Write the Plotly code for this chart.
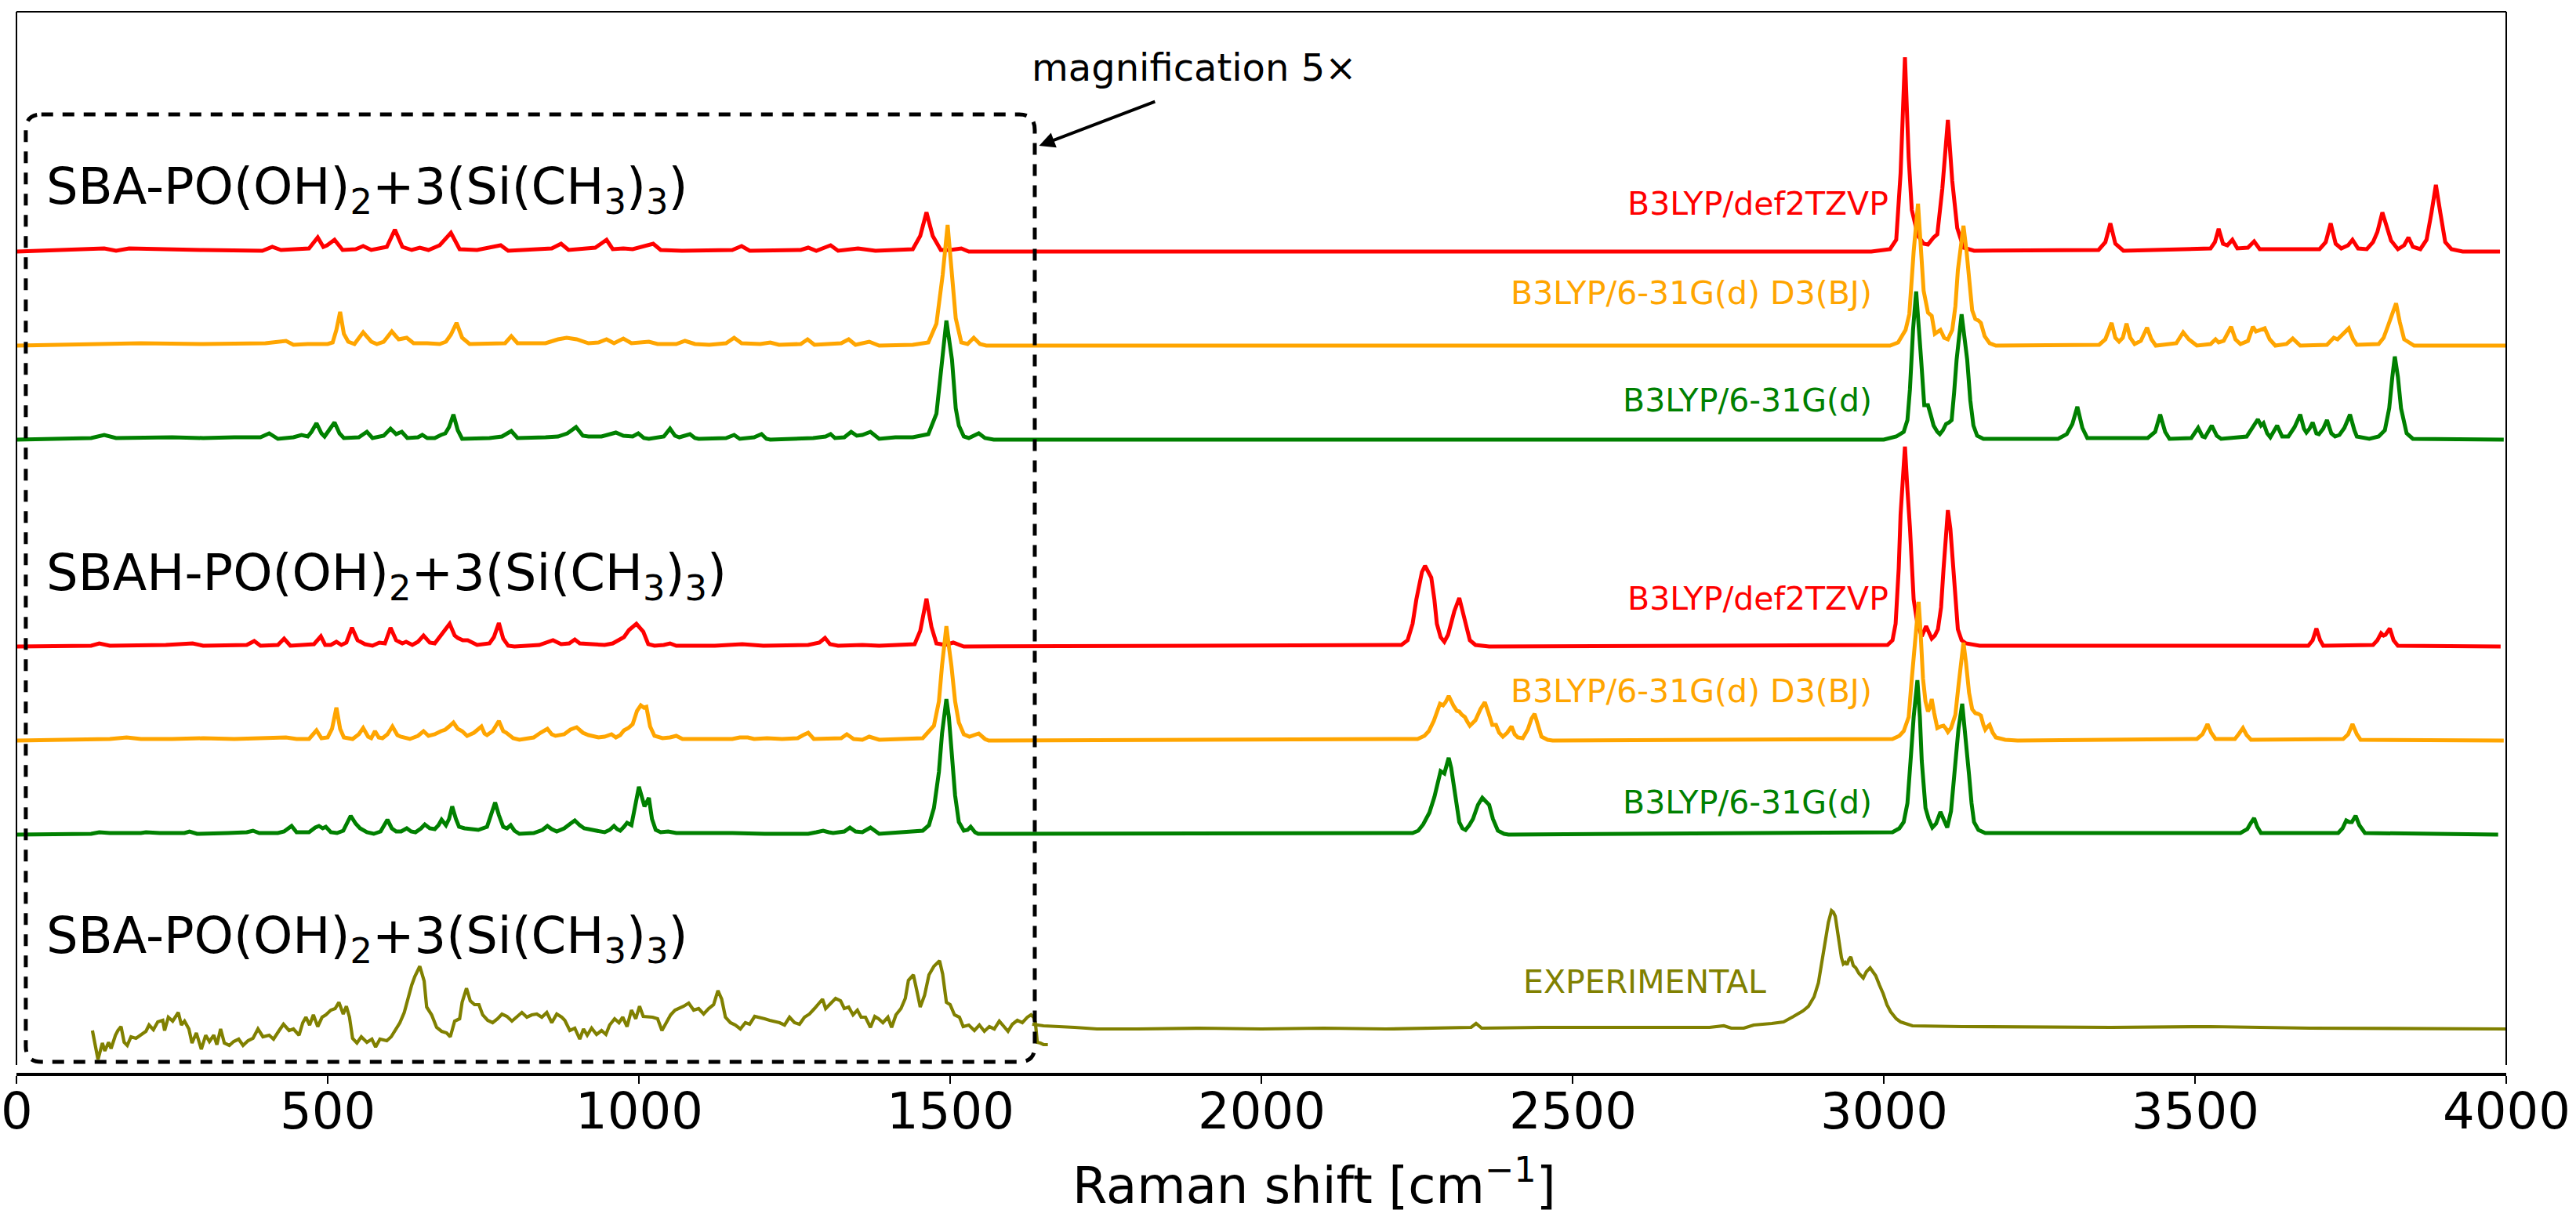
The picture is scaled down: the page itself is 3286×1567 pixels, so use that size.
import plotly.graph_objects as go

# Raman spectra.
# x = Raman shift [cm-1], y = intensity above each trace's own baseline (a.u.)

TOP_RED = [(0,0),(141,4),(160,1),(181,4),(300,2),(395,1),(411,6),(425,2),(470,4),(484,18),(493,6),(499,8),(511,15),(524,2),(545,3),(557,7),(570,2),(595,6),(608,28),(620,6),(635,2),(648,5),(662,2),(680,8),(698,24),(712,3),(740,2),(778,8),(790,1),(860,4),(875,10),(887,2),(930,5),(948,15),(958,3),(975,4),(990,3),(1005,6),(1023,10),(1035,2),(1069,1),(1150,2),(1165,7),(1178,1),(1260,2),(1272,5),(1285,1),(1308,8),(1320,1),(1352,4),(1380,1),(1440,3),(1452,20),(1462,50),(1472,20),(1485,2),(1500,2),(1518,4),(1530,0),(2980,0),(3010,3),(3020,15),(3027,100),(3034,248),(3040,120),(3045,53),(3055,20),(3064,10),(3071,9),(3080,18),(3086,22),(3094,80),(3103,168),(3110,90),(3118,30),(3128,5),(3145,1),(3345,2),(3356,12),(3364,36),(3372,10),(3385,1),(3525,4),(3532,12),(3538,29),(3545,10),(3552,8),(3560,15),(3568,4),(3585,5),(3595,13),(3604,3),(3700,3),(3710,12),(3718,36),(3726,10),(3735,4),(3746,8),(3753,15),(3762,4),(3776,3),(3786,12),(3793,25),(3801,50),(3808,30),(3815,14),(3826,3),(3836,8),(3843,18),(3850,6),(3862,3),(3872,15),(3880,50),(3887,85),(3894,50),(3902,12),(3912,3),(3930,0),(3990,0)]

TOP_ORANGE = [(0,0),(100,2),(200,3),(300,2),(400,3),(433,6),(445,1),(468,2),(500,2),(508,4),(514,20),(520,43),(526,15),(533,5),(543,2),(557,17),(570,5),(579,2),(590,5),(603,18),(614,8),(627,10),(638,3),(660,3),(680,2),(690,5),(698,14),(707,29),(716,10),(728,2),(785,3),(795,12),(805,3),(850,3),(870,8),(884,10),(900,8),(919,3),(935,4),(948,8),(960,3),(975,9),(988,3),(1016,5),(1030,2),(1060,2),(1074,6),(1090,2),(1113,1),(1140,3),(1153,10),(1165,3),(1175,3),(1195,2),(1211,4),(1225,1),(1260,2),(1271,8),(1282,1),(1300,2),(1325,3),(1337,8),(1348,1),(1370,5),(1386,0),(1440,1),(1465,4),(1478,28),(1488,90),(1496,154),(1503,90),(1509,35),(1518,4),(1528,2),(1538,10),(1548,2),(1558,0),(3010,0),(3023,4),(3035,20),(3041,40),(3048,120),(3055,181),(3060,120),(3064,70),(3071,42),(3077,38),(3082,15),(3088,18),(3091,20),(3097,10),(3103,8),(3110,20),(3115,50),(3119,96),(3128,153),(3133,120),(3137,80),(3142,45),(3147,34),(3152,32),(3156,29),(3162,12),(3170,3),(3180,0),(3346,1),(3356,8),(3366,29),(3372,10),(3378,5),(3384,10),(3390,28),(3396,10),(3403,2),(3413,6),(3423,23),(3430,8),(3437,0),(3470,3),(3481,17),(3490,8),(3503,0),(3525,2),(3533,8),(3538,4),(3546,6),(3558,24),(3565,8),(3573,2),(3585,6),(3593,24),(3598,18),(3603,19),(3608,20),(3612,22),(3620,8),(3629,0),(3647,2),(3657,9),(3669,0),(3712,1),(3718,6),(3723,10),(3729,8),(3734,12),(3741,16),(3747,22),(3754,8),(3760,1),(3795,2),(3803,10),(3810,25),(3816,40),(3823,54),(3829,30),(3836,8),(3852,0),(3999,0)]

TOP_GREEN = [(0,0),(120,2),(141,6),(160,2),(250,3),(300,2),(350,3),(392,3),(406,8),(420,1),(445,3),(458,6),(468,4),(474,10),(482,21),(490,8),(495,4),(503,12),(511,22),(519,8),(526,2),(550,3),(563,10),(572,2),(590,5),(601,14),(610,7),(619,10),(628,2),(645,3),(652,6),(660,2),(672,2),(682,6),(689,8),(695,16),(702,32),(709,12),(716,1),(760,2),(780,4),(795,11),(805,2),(850,3),(870,4),(885,8),(899,16),(910,5),(919,4),(940,4),(963,9),(975,5),(990,4),(999,8),(1008,2),(1016,1),(1040,4),(1050,14),(1058,5),(1065,3),(1082,7),(1090,2),(1096,1),(1140,2),(1153,6),(1162,1),(1185,3),(1197,7),(1205,1),(1211,0),(1280,2),(1300,4),(1308,7),(1315,2),(1330,3),(1341,10),(1350,5),(1359,6),(1372,10),(1386,1),(1412,3),(1440,3),(1465,7),(1478,33),(1487,102),(1494,152),(1503,102),(1509,40),(1514,18),(1522,4),(1530,2),(1546,8),(1556,2),(1570,0),(3000,0),(3020,4),(3032,10),(3038,25),(3042,64),(3047,140),(3052,189),(3056,150),(3060,102),(3065,44),(3071,44),(3076,30),(3080,18),(3086,10),(3090,7),(3095,12),(3100,20),(3105,22),(3109,25),(3113,60),(3117,102),(3125,160),(3130,130),(3134,102),(3139,50),(3144,18),(3150,5),(3160,1),(3280,1),(3294,7),(3303,20),(3311,42),(3319,15),(3327,2),(3424,2),(3436,10),(3444,32),(3452,10),(3459,1),(3494,2),(3505,15),(3512,4),(3516,3),(3527,18),(3535,5),(3542,1),(3583,4),(3592,14),(3601,26),(3606,18),(3610,21),(3616,8),(3621,3),(3632,18),(3640,4),(3650,4),(3660,16),(3669,32),(3675,14),(3679,9),(3684,14),(3689,22),(3695,8),(3699,7),(3706,14),(3712,25),(3719,8),(3725,4),(3732,6),(3740,15),(3749,32),(3756,12),(3760,4),(3780,1),(3795,4),(3805,12),(3812,40),(3817,80),(3821,106),(3826,80),(3831,40),(3840,8),(3850,1),(3996,0)]

MID_RED = [(0,0),(120,1),(133,4),(150,1),(240,2),(283,4),(300,1),(370,2),(382,7),(392,1),(420,2),(430,10),(440,1),(478,3),(489,13),(496,2),(505,2),(514,6),(522,2),(530,5),(539,24),(548,8),(560,3),(572,1),(583,5),(592,4),(601,24),(610,8),(620,4),(626,6),(636,2),(645,6),(654,14),(664,5),(672,4),(685,18),(696,29),(704,14),(709,11),(717,8),(725,8),(740,2),(760,4),(767,12),(775,30),(782,10),(790,1),(800,0),(840,2),(862,8),(875,3),(888,4),(897,9),(905,4),(919,3),(945,2),(958,4),(968,8),(976,12),(984,21),(996,29),(1007,19),(1015,3),(1025,1),(1040,2),(1050,4),(1060,1),(1100,1),(1122,1),(1166,3),(1200,1),(1272,2),(1290,5),(1299,11),(1307,3),(1320,1),(1359,2),(1386,1),(1443,3),(1452,20),(1462,61),(1470,25),(1478,4),(1492,2),(1505,5),(1522,0),(2225,2),(2235,8),(2243,29),(2249,60),(2253,75),(2258,95),(2263,103),(2268,95),(2273,88),(2278,60),(2282,29),(2288,12),(2294,6),(2300,15),(2304,26),(2310,45),(2318,62),(2323,45),(2328,29),(2335,8),(2344,2),(2366,0),(3006,2),(3014,8),(3019,29),(3024,100),(3027,169),(3034,255),(3038,200),(3042,152),(3048,60),(3054,29),(3061,13),(3068,26),(3077,10),(3082,14),(3087,22),(3092,50),(3096,99),(3103,174),(3107,150),(3110,117),(3115,60),(3119,22),(3125,8),(3132,4),(3154,1),(3682,1),(3689,8),(3695,23),(3701,8),(3706,1),(3786,2),(3793,8),(3799,17),(3803,14),(3806,15),(3813,23),(3819,8),(3826,1),(3991,0)]

MID_ORANGE = [(0,0),(100,1),(150,2),(177,4),(200,2),(250,2),(300,3),(350,2),(400,3),(433,4),(450,2),(470,2),(482,13),(490,3),(500,4),(507,15),(514,42),(520,15),(526,4),(540,2),(550,8),(557,16),(565,5),(570,3),(576,12),(582,4),(588,3),(596,8),(604,18),(612,7),(617,5),(624,4),(632,2),(645,6),(654,12),(662,6),(672,8),(682,12),(689,14),(695,18),(702,23),(709,15),(716,12),(724,6),(735,10),(747,18),(752,9),(756,7),(765,12),(775,25),(782,12),(787,10),(798,3),(808,1),(820,3),(831,4),(842,10),(853,15),(860,8),(866,6),(880,8),(890,14),(900,17),(910,10),(919,7),(935,4),(945,5),(956,8),(963,4),(970,7),(976,13),(983,16),(990,21),(997,38),(1003,45),(1008,42),(1012,43),(1018,18),(1025,6),(1038,3),(1050,4),(1060,6),(1070,2),(1100,2),(1122,1),(1150,2),(1162,4),(1175,4),(1185,2),(1206,3),(1230,2),(1255,3),(1264,7),(1272,10),(1281,2),(1300,2),(1325,3),(1334,8),(1345,2),(1359,1),(1370,5),(1386,1),(1456,3),(1474,19),(1482,50),(1487,96),(1494,146),(1498,120),(1502,96),(1508,50),(1514,23),(1522,8),(1531,5),(1546,9),(1556,2),(1562,0),(2251,2),(2262,6),(2269,12),(2277,25),(2283,40),(2287,47),(2292,45),(2296,49),(2301,57),(2305,50),(2309,44),(2314,38),(2318,37),(2322,33),(2327,30),(2331,24),(2335,19),(2339,22),(2344,26),(2352,40),(2359,49),(2365,35),(2371,20),(2377,20),(2382,10),(2388,5),(2395,10),(2402,18),(2407,8),(2412,4),(2420,3),(2428,14),(2434,28),(2439,34),(2444,20),(2450,5),(2460,1),(2468,0),(3014,2),(3025,6),(3032,12),(3040,30),(3045,79),(3050,130),(3056,177),(3059,140),(3063,79),(3067,50),(3071,37),(3074,42),(3077,53),(3081,35),(3086,16),(3091,18),(3096,19),(3100,15),(3103,11),(3108,16),(3115,33),(3120,70),(3124,100),(3128,125),(3132,100),(3137,61),(3142,40),(3147,35),(3152,34),(3156,32),(3160,20),(3163,14),(3167,18),(3170,20),(3175,10),(3180,4),(3195,1),(3215,0),(3503,2),(3512,8),(3520,21),(3526,10),(3533,2),(3564,2),(3570,8),(3577,16),(3583,7),(3590,1),(3738,2),(3746,8),(3753,21),(3760,8),(3766,1),(3996,0)]

MID_GREEN = [(0,0),(120,1),(133,3),(150,2),(200,2),(208,3),(230,2),(270,2),(278,4),(290,1),(340,2),(370,3),(380,5),(390,2),(420,2),(430,4),(442,11),(450,3),(470,3),(480,9),(486,11),(492,8),(497,10),(505,3),(515,2),(525,5),(537,24),(545,14),(552,8),(563,3),(574,1),(585,4),(596,19),(603,8),(610,4),(618,4),(627,8),(634,4),(641,3),(650,8),(656,13),(664,8),(672,7),(678,12),(683,19),(690,12),(695,20),(700,36),(706,20),(711,10),(720,8),(742,6),(756,10),(763,25),(769,41),(775,25),(782,10),(788,8),(794,12),(800,5),(808,1),(831,2),(845,6),(853,11),(860,7),(868,4),(880,8),(890,14),(897,18),(905,12),(912,8),(919,7),(935,4),(945,3),(953,6),(960,11),(965,7),(970,5),(976,10),(981,15),(988,12),(994,40),(1000,61),(1004,50),(1009,36),(1013,42),(1016,47),(1021,20),(1027,6),(1035,3),(1047,4),(1060,2),(1069,2),(1100,2),(1130,2),(1140,3),(1150,2),(1202,1),(1272,1),(1285,3),(1296,5),(1305,3),(1312,2),(1330,4),(1339,9),(1348,4),(1359,3),(1372,9),(1386,1),(1456,5),(1466,12),(1474,34),(1482,80),(1487,129),(1494,173),(1498,150),(1502,111),(1508,50),(1514,16),(1522,5),(1528,6),(1533,10),(1540,3),(1545,1),(2243,2),(2252,5),(2260,13),(2270,28),(2278,48),(2284,70),(2288,81),(2294,78),(2298,90),(2301,98),(2305,85),(2309,66),(2314,35),(2318,16),(2323,8),(2328,6),(2334,12),(2340,20),(2348,38),(2355,47),(2361,42),(2366,38),(2372,20),(2380,5),(2390,1),(2397,0),(3014,3),(3025,8),(3032,16),(3038,40),(3043,94),(3048,150),(3054,197),(3058,150),(3061,94),(3064,55),(3067,34),(3072,20),(3078,9),(3084,14),(3091,29),(3097,18),(3102,9),(3108,30),(3115,94),(3120,135),(3126,167),(3131,130),(3137,76),(3141,40),(3145,16),(3152,6),(3163,2),(3573,2),(3584,7),(3589,14),(3595,21),(3600,10),(3606,2),(3730,2),(3737,8),(3743,18),(3748,16),(3752,16),(3758,24),(3764,12),(3773,2),(3987,0)]

# experimental spectrum, low-wavenumber part shown magnified 5x
EXP_ZOOM = [(122,-3),(131,-40),(138,-19),(142,-29),(148,-18),(152,-26),(159,-9),(163,-3),(168,2),(173,-18),(178,-22),(184,-11),(192,-13),(200,-9),(208,-4),(213,4),(220,-2),(227,8),(235,10),(238,-3),(244,14),(251,9),(260,20),(265,4),(270,9),(277,-1),(282,-19),(289,-6),(297,-27),(304,-9),(310,-17),(317,-9),(322,-21),(328,-1),(334,-19),(342,-22),(349,-17),(357,-14),(364,-22),(372,-16),(380,-13),(388,-1),(396,-11),(406,-9),(413,-14),(422,-3),(429,5),(438,-3),(445,-1),(454,-9),(460,7),(465,14),(471,4),(477,17),(484,2),(491,14),(497,17),(505,23),(512,25),(518,33),(525,18),(530,28),(535,14),(540,-13),(547,-19),(554,-11),(563,-18),(571,-14),(577,-24),(584,-14),(595,-16),(602,-11),(609,-1),(616,7),(623,20),(630,43),(635,55),(640,66),(648,79),(655,60),(659,27),(667,17),(675,1),(683,-4),(691,-6),(697,-11),(704,9),(712,12),(716,33),(723,51),(729,35),(736,30),(743,30),(749,17),(757,10),(765,7),(773,12),(780,18),(788,15),(796,9),(804,14),(812,20),(820,14),(828,17),(836,18),(844,14),(852,20),(860,7),(868,18),(876,14),(881,10),(889,-3),(897,0),(905,-14),(911,-1),(917,-9),(924,0),(932,-8),(940,-3),(947,-8),(953,4),(961,12),(968,7),(974,14),(981,2),(988,23),(995,12),(1001,28),(1007,15),(1014,15),(1022,14),(1030,12),(1037,-3),(1044,7),(1051,17),(1058,23),(1064,25),(1072,28),(1080,32),(1088,23),(1096,25),(1104,18),(1112,25),(1120,30),(1127,48),(1133,37),(1139,14),(1147,7),(1155,4),(1163,-1),(1171,7),(1178,5),(1186,15),(1194,14),(1202,12),(1210,10),(1218,9),(1226,7),(1234,4),(1242,14),(1250,7),(1258,5),(1266,14),(1274,18),(1282,25),(1288,30),(1295,37),(1300,25),(1308,32),(1316,38),(1324,35),(1330,25),(1337,27),(1344,17),(1351,23),(1357,14),(1364,14),(1372,1),(1379,15),(1385,12),(1392,7),(1400,14),(1406,1),(1413,17),(1421,25),(1428,38),(1433,61),(1441,68),(1447,46),(1452,27),(1459,42),(1466,68),(1474,79),(1483,86),(1488,69),(1494,33),(1500,30),(1507,17),(1515,14),(1521,2),(1530,4),(1539,-3),(1547,4),(1555,-4),(1563,2),(1571,-1),(1579,9),(1587,1),(1593,-4),(1600,5),(1608,10),(1616,7),(1624,14),(1630,17),(1634,14),(1637,7),(1640,-18),(1645,-19),(1650,-21),(1657,-21)]

EXP = [(1632,5),(1650,3),(1700,1),(1736,-1),(1800,-1),(1900,0),(2000,-1),(2100,0),(2200,-1),(2337,1),(2345,6),(2354,0),(2450,1),(2568,1),(2664,0),(2720,1),(2743,3),(2755,0),(2775,0),(2791,4),(2820,6),(2839,8),(2855,15),(2870,22),(2879,28),(2888,40),(2895,58),(2901,85),(2906,107),(2911,135),(2916,150),(2919,148),(2922,143),(2926,120),(2928,114),(2932,90),(2935,82),(2938,84),(2941,81),(2944,88),(2947,91),(2951,80),(2955,77),(2960,70),(2967,64),(2972,72),(2978,77),(2983,72),(2987,67),(2993,55),(2999,44),(3005,30),(3011,21),(3020,12),(3027,8),(3046,3),(3126,2),(3365,1),(3525,2),(3685,0),(3844,-1),(4000,-1)]

METHODS = ["B3LYP/def2TZVP", "B3LYP/6-31G(d) D3(BJ)", "B3LYP/6-31G(d)"]
SYSTEMS = ["SBA-PO(OH)<sub>2</sub>+3(Si(CH<sub>3</sub>)<sub>3</sub>)",
           "SBAH-PO(OH)<sub>2</sub>+3(Si(CH<sub>3</sub>)<sub>3</sub>)",
           "SBA-PO(OH)<sub>2</sub>+3(Si(CH<sub>3</sub>)<sub>3</sub>)"]
XTICKS = [0, 500, 1000, 1500, 2000, 2500, 3000, 3500, 4000]

FONT = "DejaVu Sans"
COLORS = ["#ff0000", "#ffa500", "#008000"]
OLIVE = "#808000"

fig = go.Figure()

# (series, colour, vertical offset, label x, label y)
calc = [
    (TOP_RED, 0, 1038, 3010, 1099),
    (TOP_ORANGE, 1, 918, 2984, 985),
    (TOP_GREEN, 2, 798, 2984, 848),
    (MID_RED, 0, 534, 3010, 595),
    (MID_ORANGE, 1, 414, 2984, 477),
    (MID_GREEN, 2, 294, 2984, 335),
]
annotations = []
for pts, ci, off, lx, ly in calc:
    fig.add_trace(go.Scatter(
        x=[p[0] for p in pts], y=[p[1] + off for p in pts],
        mode="lines", line=dict(color=COLORS[ci], width=5),
        showlegend=False, hoverinfo="skip"))
    annotations.append(dict(x=lx, y=ly, xref="x", yref="y", text=METHODS[ci],
                            showarrow=False, xanchor="right", yanchor="middle",
                            font=dict(family=FONT, size=41, color=COLORS[ci])))

EXP_OFF = 47
for pts in (EXP_ZOOM, EXP):
    fig.add_trace(go.Scatter(
        x=[p[0] for p in pts], y=[p[1] + EXP_OFF for p in pts],
        mode="lines", line=dict(color=OLIVE, width=4.2),
        showlegend=False, hoverinfo="skip"))

annotations.append(dict(x=2616, y=106, xref="x", yref="y", text="EXPERIMENTAL",
                        showarrow=False, xanchor="center", yanchor="middle",
                        font=dict(family=FONT, size=41, color=OLIVE)))

for txt, yy in zip(SYSTEMS, [1117, 624, 161]):
    annotations.append(dict(x=45, y=yy, xref="x", yref="y", text=txt,
                            showarrow=False, xanchor="left", yanchor="middle",
                            font=dict(family=FONT, size=64, color="black")))

annotations.append(dict(x=1628, y=1273, xref="x", yref="y", text="magnification 5×",
                        showarrow=False, xanchor="left", yanchor="middle",
                        font=dict(family=FONT, size=48, color="black")))
annotations.append(dict(x=1643, y=1173, xref="x", yref="y", ax=1831, ay=1230,
                        axref="x", ayref="y", text="", showarrow=True,
                        arrowhead=2, arrowsize=1, arrowwidth=4, arrowcolor="black"))
annotations.append(dict(x=0.5214, y=-0.101, xref="paper", yref="paper",
                        text="Raman shift [cm<sup>−1</sup>]", showarrow=False,
                        xanchor="center", yanchor="middle",
                        font=dict(family=FONT, size=64, color="black")))

# tick labels placed below the offset bottom axis
for v in XTICKS:
    annotations.append(dict(x=v, y=-0.0343, xref="x", yref="paper", text=str(v),
                            showarrow=False, xanchor="center", yanchor="middle",
                            font=dict(family=FONT, size=64, color="black")))

# dashed rounded box around the magnified region
x0, x1, y0, y1, rx, ry = 15, 1636, 4, 1213, 25, 20
box = (f"M {x0+rx},{y1} L {x1-rx},{y1} Q {x1},{y1} {x1},{y1-ry} "
       f"L {x1},{y0+ry} Q {x1},{y0} {x1-rx},{y0} L {x0+rx},{y0} "
       f"Q {x0},{y0} {x0},{y0+ry} L {x0},{y1-ry} Q {x0},{y1} {x0+rx},{y1} Z")
ybot = 12 / 1356
shapes = [
    dict(type="path", path=box, xref="x", yref="y",
         line=dict(color="black", width=5, dash="15px,12px")),
    dict(type="line", xref="paper", yref="paper", x0=0, x1=0, y0=ybot, y1=1,
         line=dict(color="black", width=2)),
    dict(type="line", xref="paper", yref="paper", x0=1, x1=1, y0=ybot, y1=1,
         line=dict(color="black", width=2)),
    dict(type="line", xref="paper", yref="paper", x0=0, x1=1, y0=1, y1=1,
         line=dict(color="black", width=2)),
]

fig.update_layout(
    width=3286, height=1567,
    margin=dict(l=21, r=89, t=15, b=196),
    plot_bgcolor="white", paper_bgcolor="white",
    font=dict(family=FONT, color="black"),
    xaxis=dict(range=[0, 4000], tickvals=XTICKS, ticks="outside", ticklen=10,
               tickwidth=2, tickcolor="black", showline=True, linewidth=4,
               linecolor="black", showgrid=False, zeroline=False,
               anchor="free", position=0, showticklabels=False),
    yaxis=dict(range=[0, 1344], domain=[ybot, 1], visible=False,
               showgrid=False, zeroline=False),
    annotations=annotations,
    shapes=shapes,
)

fig.write_html("out.html", config={"displayModeBar": False},
               post_script="document.body.style.margin='0';")
